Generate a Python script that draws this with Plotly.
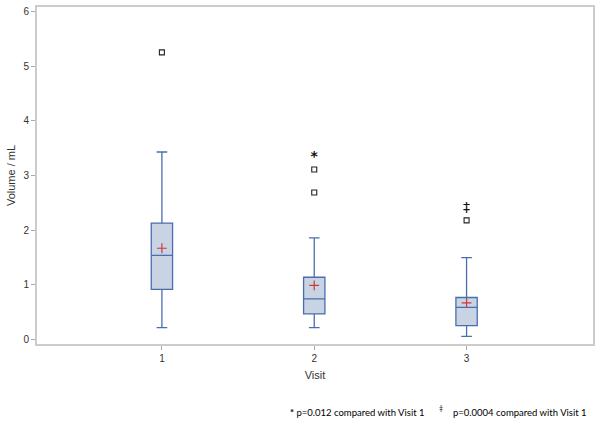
import plotly.graph_objects as go

visits = [1, 2, 3]
q1 = [0.92, 0.47, 0.255]
medians = [1.54, 0.745, 0.59]
q3 = [2.13, 1.14, 0.77]
lower_whisker = [0.22, 0.22, 0.06]
upper_whisker = [3.43, 1.86, 1.50]
means = [1.67, 0.99, 0.67]

outlier_visit = [1, 2, 2, 3]
outlier_value = [5.25, 3.11, 2.69, 2.18]

sig_visit = [2, 3]
sig_value = [3.32, 2.40]
sig_symbol = ["<b>*</b>", "‡"]

box_line = "#4a6db0"
box_fill = "#c8d3e4"

fig = go.Figure()
fig.add_trace(
    go.Box(
        x=visits,
        q1=q1,
        median=medians,
        q3=q3,
        lowerfence=lower_whisker,
        upperfence=upper_whisker,
        boxpoints=False,
        width=0.14,
        whiskerwidth=0.5,
        fillcolor=box_fill,
        line=dict(color=box_line, width=1.3),
        hoverinfo="skip",
    )
)
fig.add_trace(
    go.Scatter(
        x=visits,
        y=means,
        mode="markers",
        marker=dict(symbol="cross-thin", size=7, line=dict(color="#d0393b", width=1.2)),
    )
)
fig.add_trace(
    go.Scatter(
        x=outlier_visit,
        y=outlier_value,
        mode="markers",
        marker=dict(symbol="square-open", size=5, color="#222222", line=dict(width=1.1)),
    )
)
fig.add_trace(
    go.Scatter(
        x=sig_visit,
        y=sig_value,
        mode="text",
        text=sig_symbol,
        textposition="middle center",
        textfont=dict(family="DejaVu Sans", size=14, color="#111111"),
    )
)

fig.update_layout(
    width=602,
    height=425,
    margin=dict(l=37, r=9, t=7, b=81),
    paper_bgcolor="white",
    plot_bgcolor="white",
    showlegend=False,
    font=dict(family="Liberation Sans", size=10, color="#333333"),
)
fig.update_xaxes(
    range=[0.18, 3.83],
    tickvals=visits,
    ticks="outside",
    ticklen=4,
    tickcolor="#aaaaaa",
    showgrid=False,
    zeroline=False,
    showline=True,
    linecolor="#cccccc",
    linewidth=2,
    mirror=True,
    automargin=False,
    title=dict(text="Visit", font=dict(size=11), standoff=8),
)
fig.update_yaxes(
    range=[-0.08, 6.08],
    tickvals=[0, 1, 2, 3, 4, 5, 6],
    ticks="outside",
    ticklen=4,
    tickcolor="#aaaaaa",
    showgrid=False,
    zeroline=False,
    showline=True,
    linecolor="#cccccc",
    linewidth=2,
    mirror=True,
    automargin=False,
    title=dict(text="Volume / mL", font=dict(size=11), standoff=6),
)

foot_font = dict(family="Lato", size=9.5, color="#000000")
fig.add_annotation(
    x=0.451, y=-0.202, xref="paper", yref="paper", text="<b>*</b> p=0.012 compared with Visit 1",
    showarrow=False, xanchor="left", yanchor="middle", font=foot_font,
)
fig.add_annotation(
    x=0.719, y=-0.19, xref="paper", yref="paper", text="‡",
    showarrow=False, xanchor="left", yanchor="middle", font=dict(family="Lato", size=7, color="#000000"),
)
fig.add_annotation(
    x=0.744, y=-0.202, xref="paper", yref="paper", text="p=0.0004 compared with Visit 1",
    showarrow=False, xanchor="left", yanchor="middle", font=foot_font,
)

fig.write_html(
    "out.html",
    config={"displayModeBar": False},
    post_script="document.body.style.margin='0';",
)
